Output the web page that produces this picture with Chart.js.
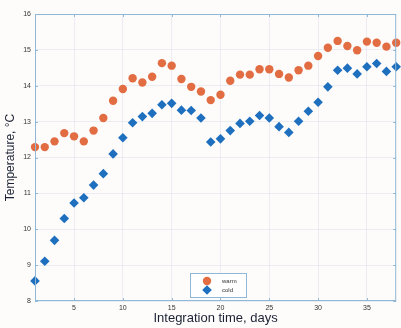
<!DOCTYPE html>
<html>
<head>
<meta charset="utf-8">
<script src="https://cdn.jsdelivr.net/npm/chart.js@4/dist/chart.umd.min.js"></script>
<style>
  html, body { margin: 0; padding: 0; background: #fdfcfb; }
  #wrap { width: 401px; height: 328px; position: relative; }
</style>
</head>
<body>
<div id="wrap"><canvas id="chart"></canvas></div>
<script>
// integration time (days) and mean temperatures for both runs
const days = [1, 2, 3, 4, 5, 6, 7, 8, 9, 10, 11, 12, 13, 14, 15, 16, 17, 18, 19,
  20, 21, 22, 23, 24, 25, 26, 27, 28, 29, 30, 31, 32, 33, 34, 35, 36, 37, 38];
const warm = [12.29, 12.29, 12.45, 12.68, 12.59, 12.45, 12.75, 13.1, 13.58, 13.91,
  14.21, 14.09, 14.25, 14.63, 14.56, 14.19, 13.97, 13.84, 13.6, 13.75,
  14.14, 14.31, 14.31, 14.46, 14.46, 14.33, 14.23, 14.43, 14.56, 14.83,
  15.06, 15.25, 15.11, 14.99, 15.23, 15.2, 15.09, 15.2];
const cold = [8.56, 9.11, 9.69, 10.3, 10.73, 10.88, 11.23, 11.55, 12.1, 12.55,
  12.97, 13.14, 13.23, 13.47, 13.51, 13.32, 13.31, 13.1, 12.43, 12.52,
  12.75, 12.95, 13.01, 13.17, 13.1, 12.86, 12.7, 13.01, 13.29, 13.54,
  13.97, 14.43, 14.49, 14.33, 14.53, 14.62, 14.4, 14.53];
const xTicks = [5, 10, 15, 20, 25, 30, 35];
const yTicks = [8, 9, 10, 11, 12, 13, 14, 15, 16];

const warmColor = '#e36d42';
const coldColor = '#1f6fbf';
const axisColor = '#8fb7d6';
const textColor = '#333333';
const titleColor = '#1c2233';
const fontFamily = '"Liberation Sans", Arial, sans-serif';

const toPoints = vals => days.map((d, i) => ({ x: d, y: vals[i] }));

// box round the plot with inward tick marks on all four sides
const frame = {
  id: 'frame',
  afterDraw(chart) {
    const { ctx, chartArea: a, scales } = chart;
    ctx.save();
    ctx.strokeStyle = axisColor;
    ctx.lineWidth = 1;
    ctx.strokeRect(a.left + 0.5, a.top + 0.5, a.right - a.left - 1, a.bottom - a.top - 1);
    ctx.beginPath();
    xTicks.forEach(v => {
      const px = Math.round(scales.x.getPixelForValue(v)) + 0.5;
      ctx.moveTo(px, a.bottom); ctx.lineTo(px, a.bottom - 3);
      ctx.moveTo(px, a.top); ctx.lineTo(px, a.top + 3);
    });
    yTicks.forEach(v => {
      const py = Math.round(scales.y.getPixelForValue(v)) + 0.5;
      ctx.moveTo(a.left, py); ctx.lineTo(a.left + 3, py);
      ctx.moveTo(a.right, py); ctx.lineTo(a.right - 3, py);
    });
    ctx.stroke();
    ctx.restore();
  }
};

// small legend box inside the plot, near the bottom
const boxLegend = {
  id: 'boxLegend',
  afterDraw(chart) {
    const { ctx } = chart;
    const x = 190, y = 273, w = 56, h = 24;
    ctx.save();
    ctx.fillStyle = '#ffffff';
    ctx.fillRect(x, y, w, h);
    ctx.strokeStyle = axisColor;
    ctx.strokeRect(x + 0.5, y + 0.5, w, h);
    ctx.font = '6px ' + fontFamily;
    ctx.textBaseline = 'middle';
    chart.data.datasets.forEach((ds, i) => {
      const cy = y + 8 + i * 9;
      ctx.fillStyle = ds.backgroundColor;
      Chart.helpers.drawPoint(ctx, {
        pointStyle: ds.pointStyle, radius: ds.pointRadius, borderWidth: 0
      }, 207, cy);
      ctx.fillStyle = textColor;
      ctx.fillText(ds.label, 222, cy);
    });
    ctx.restore();
  }
};

new Chart(document.getElementById('chart'), {
  type: 'scatter',
  data: {
    datasets: [
      {
        label: 'warm',
        data: toPoints(warm),
        backgroundColor: warmColor,
        borderColor: warmColor,
        borderWidth: 0,
        pointStyle: 'circle',
        pointRadius: 4.2
      },
      {
        label: 'cold',
        data: toPoints(cold),
        backgroundColor: coldColor,
        borderColor: coldColor,
        borderWidth: 0,
        pointStyle: 'rectRot',
        pointRadius: 4.8
      }
    ]
  },
  options: {
    responsive: true,
    maintainAspectRatio: false,
    animation: false,
    clip: false,
    layout: { padding: { top: 14, right: 1, left: 0, bottom: 0 } },
    plugins: { legend: { display: false }, tooltip: { enabled: false } },
    scales: {
      x: {
        type: 'linear',
        min: 1,
        max: 38,
        afterBuildTicks: s => { s.ticks = xTicks.map(v => ({ value: v })); },
        afterFit: s => { s.height = 27; },
        grid: { color: 'rgba(200,210,225,0.35)', drawTicks: false },
        border: { display: false },
        ticks: {
          padding: 3,
          color: textColor,
          font: { family: fontFamily, size: 7 },
          maxRotation: 0
        },
        title: {
          display: true,
          text: 'Integration time, days',
          color: titleColor,
          padding: { top: 0, bottom: 2 },
          font: { family: fontFamily, size: 13 }
        }
      },
      y: {
        min: 8,
        max: 16,
        afterBuildTicks: s => { s.ticks = yTicks.map(v => ({ value: v })); },
        afterFit: s => { s.width = 35; },
        grid: { color: 'rgba(200,210,225,0.35)', drawTicks: false },
        border: { display: false },
        ticks: {
          padding: 4,
          color: textColor,
          font: { family: fontFamily, size: 7 }
        },
        title: {
          display: true,
          text: 'Temperature, °C',
          color: titleColor,
          padding: { top: 3, bottom: 0 },
          font: { family: fontFamily, size: 12 }
        }
      }
    }
  },
  plugins: [frame, boxLegend]
});
</script>
</body>
</html>
